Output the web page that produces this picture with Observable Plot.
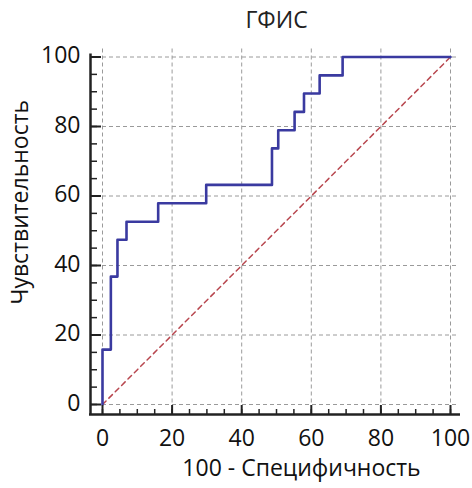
<!DOCTYPE html>
<html><head><meta charset="utf-8">
<script src="https://cdn.jsdelivr.net/npm/d3@7"></script>
<script src="https://cdn.jsdelivr.net/npm/@observablehq/plot@0.6"></script>
<style>body{margin:0;background:#fff}</style>
</head><body><div id="chart"></div>
<script>
// ROC curve corner points (step-after)
const fpr  = [0, 0,    2.4,  4.3,  6.9,  16.0, 29.8, 48.7, 50.5, 55.2, 57.9, 62.4, 69.0, 100];
const sens = [0, 15.8, 36.8, 47.4, 52.6, 57.9, 63.2, 73.7, 78.9, 84.2, 89.5, 94.7, 100,  100];
const diag = [0, 100];
const majorTicks = [0, 20, 40, 60, 80, 100];
const minorTicks = d3.range(0, 101, 5);
const title = "ГФИС";
const xLabel = "100 - Специфичность";
const yLabel = "Чувствительность";

const font = "'Open Sans', 'Noto Sans', sans-serif";
const fs = 23;
const idx = fpr.map((_, i) => i);

// layout
const W = 472, H = 488, mL = 102, mR = 22, mT = 56.5, mB = 84;
const frameW = W - mL - mR, frameH = H - mT - mB;
const yAxisOff = 12, xAxisOff = 10;

const chart = Plot.plot({
  width: W, height: H,
  marginLeft: mL, marginRight: mR, marginTop: mT, marginBottom: mB,
  style: {fontFamily: font, background: "#fff"},
  x: {domain: [0, 100], axis: null},
  y: {domain: [0, 100], axis: null},
  marks: [
    // grid
    Plot.ruleX(majorTicks, {stroke: "#9a9a9a", strokeDasharray: "4,3", strokeWidth: 1, insetTop: -8}),
    Plot.ruleY(majorTicks, {stroke: "#9a9a9a", strokeDasharray: "4,3", strokeWidth: 1, insetRight: -8}),
    // reference diagonal and ROC curve
    Plot.line(diag, {x: d => d, y: d => d, stroke: "#b8474f", strokeWidth: 1.5, strokeDasharray: "5,4"}),
    Plot.line(idx, {x: i => fpr[i], y: i => sens[i], curve: "step-after", stroke: "#3a3aa0", strokeWidth: 2.6}),
    // axis lines (offset from the frame)
    Plot.ruleX([0], {dx: -yAxisOff, insetTop: -3, insetBottom: -(xAxisOff + 1), stroke: "#222", strokeWidth: 2.5}),
    Plot.ruleY([0], {dy: xAxisOff, insetLeft: -(yAxisOff + 1), insetRight: -10, stroke: "#222", strokeWidth: 2.5}),
    // y ticks (pointing inward from the axis line)
    Plot.ruleY(majorTicks, {insetLeft: -yAxisOff, insetRight: frameW + 1, stroke: "#222", strokeWidth: 2}),
    Plot.ruleY(minorTicks, {insetLeft: -yAxisOff, insetRight: frameW + 5, stroke: "#222", strokeWidth: 1.5}),
    // x ticks
    Plot.ruleX(majorTicks, {insetBottom: -xAxisOff, insetTop: frameH + 1, stroke: "#222", strokeWidth: 2}),
    Plot.ruleX(minorTicks, {insetBottom: -xAxisOff, insetTop: frameH + 5, stroke: "#222", strokeWidth: 1.5}),
    // tick labels
    Plot.axisY(majorTicks, {anchor: "left", tickSize: 0, tickPadding: 22, dy: -1, fontSize: fs, fill: "#111", tickFormat: d => d}),
    Plot.axisX(majorTicks, {anchor: "bottom", tickSize: 0, tickPadding: 25, fontSize: fs, fill: "#111", tickFormat: d => d}),
    // titles
    Plot.text([title], {frameAnchor: "top", dy: -36, lineAnchor: "middle", textAnchor: "middle", fontSize: fs, fill: "#222"}),
    Plot.text([xLabel], {frameAnchor: "bottom", dx: 25, dy: 64, lineAnchor: "middle", textAnchor: "middle", fontSize: fs, fill: "#111"}),
    Plot.text([yLabel], {frameAnchor: "left", dx: -81.5, dy: -28.5, rotate: -90, lineAnchor: "middle", textAnchor: "middle", fontSize: fs, fill: "#111"})
  ]
});
document.getElementById("chart").appendChild(chart);
</script>
</body></html>
